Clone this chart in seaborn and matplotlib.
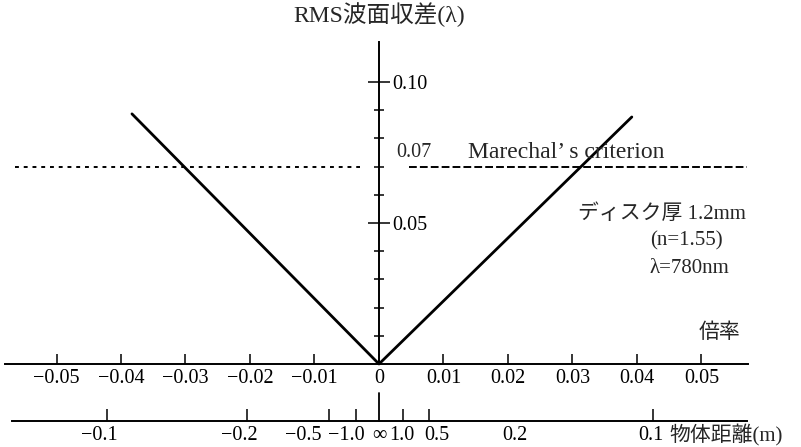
import matplotlib
matplotlib.use("Agg")
import matplotlib.pyplot as plt
import pandas as pd
import seaborn as sns

# RMS wavefront aberration vs. magnification (disc 1.2 mm, n = 1.55, λ = 780 nm)
magnification = [-0.0383, 0.0, 0.0392]
rms_aberration = [0.0887, 0.0, 0.0876]

# Maréchal criterion
marechal_limit = 0.07

# upper horizontal axis: magnification
mag_ticks = [-0.05, -0.04, -0.03, -0.02, -0.01, 0.0, 0.01, 0.02, 0.03, 0.04, 0.05]
mag_labels = ["−0.05", "−0.04", "−0.03", "−0.02", "−0.01", "0",
              "0.01", "0.02", "0.03", "0.04", "0.05"]

# lower horizontal axis: object distance (m), placed at its magnification
distance_labels = ["−0.1", "−0.2", "−0.5", "−1.0", "∞", "1.0", "0.5", "0.2", "0.1"]
distance_mag = [-0.0422, -0.0205, -0.0078, -0.0036, 0.0, 0.0037, 0.0078, 0.0211, 0.0425]
# label centres (crowded labels near ∞ are spread apart)
distance_label_pos = [-0.0434, -0.0216, -0.0118, -0.0050, 0.0, 0.0036, 0.0089, 0.0211, 0.0422]

# vertical axis ticks
rms_major = [0.05, 0.10]
rms_major_labels = ["0.05", "0.10"]
rms_minor = [0.01, 0.02, 0.03, 0.04, 0.06, 0.07, 0.08, 0.09]

sns.set_theme(style="ticks")
FONT = ["Liberation Serif", "Noto Sans CJK JP"]
plt.rcParams["font.family"] = FONT
plt.rcParams["axes.unicode_minus"] = True

TICK_FS = 14.5

fig = plt.figure(figsize=(8.01, 4.47), dpi=100)
ax = fig.add_axes([0, 0, 1, 1])
ax.set_xlim(-0.05876, 0.06543)
ax.set_ylim(-0.02943, 0.12908)

df = pd.DataFrame({"mag": magnification, "rms": rms_aberration})
sns.lineplot(data=df, x="mag", y="rms", ax=ax, color="black", linewidth=2.0,
             estimator=None, sort=True)

# Maréchal limit: dotted on the left, dashed on the right
ax.hlines(marechal_limit, -0.0564, -0.0029, colors="black", linewidth=1.4,
          linestyles=(0, (2.0, 2.5)))
ax.hlines(marechal_limit, 0.00465, 0.0571, colors="black", linewidth=1.4,
          linestyles=(0, (4.0, 1.6)))

# axis lines through the origin
for side in ("left", "top"):
    ax.spines[side].set_visible(False)
ax.spines["bottom"].set_position(("data", 0))
ax.spines["bottom"].set_bounds(-0.058, 0.0572)
ax.spines["right"].set_position(("data", 0))
ax.spines["right"].set_bounds(0, 0.1142)
for side in ("bottom", "right"):
    ax.spines[side].set_linewidth(1.4)
    ax.spines[side].set_color("black")

ax.set_xticks(mag_ticks, labels=mag_labels)
ax.tick_params(axis="x", which="major", direction="in", length=7, width=1.1,
               color="black", pad=3.5, labelsize=TICK_FS, labelcolor="black",
               bottom=True, top=False)

ax.yaxis.tick_right()
ax.set_yticks(rms_major, labels=rms_major_labels)
ax.set_yticks(rms_minor, minor=True)
ax.tick_params(axis="y", which="major", direction="inout", length=16, width=1.1,
               color="black", pad=1.5, labelsize=TICK_FS, labelcolor="black",
               left=False, right=True)
ax.tick_params(axis="y", which="minor", direction="inout", length=7, width=1.1,
               color="black", left=False, right=True)
ax.set_xlabel("")
ax.set_ylabel("")

# object-distance axis below
low_frac = (447 - 421) / 447
sec = ax.secondary_xaxis(low_frac)
sec.spines["bottom"].set_bounds(-0.0569, 0.0571)
sec.spines["bottom"].set_linewidth(1.4)
sec.spines["bottom"].set_color("black")
sec.set_xticks(distance_label_pos, labels=distance_labels)
sec.set_xticks([m for m in distance_mag if m != 0.0], minor=True)
sec.tick_params(which="major", length=0, pad=3.5, labelsize=TICK_FS, labelcolor="black")
sec.tick_params(which="minor", direction="in", length=8.5, width=1.1, color="black")
ax.axvline(0.0, ymin=low_frac, ymax=(447 - 393) / 447, color="black", linewidth=1.3)

# texts
ax.text(0.0, 0.1238, "RMS波面収差(λ)", ha="center", va="center", fontsize=17)
ax.text(0.0026, marechal_limit + 0.0050, "0.07", ha="left", va="center", fontsize=TICK_FS)
ax.text(0.0138, marechal_limit + 0.0050, "Marechal’ s criterion", ha="left",
        va="center", fontsize=17)
ax.text(0.0308, 0.0532, "ディスク厚 1.2mm", ha="left", va="center", fontsize=15)
ax.text(0.0420, 0.0436, "(n=1.55)", ha="left", va="center", fontsize=15)
ax.text(0.0420, 0.0340, "λ=780nm", ha="left", va="center", fontsize=15)
ax.text(0.0560, 0.0110, "倍率", ha="right", va="center", fontsize=15)
ax.text(0.0451, -0.0252, "物体距離(m)", ha="left", va="center", fontsize=15)

fig.savefig("out.png", dpi=100)
